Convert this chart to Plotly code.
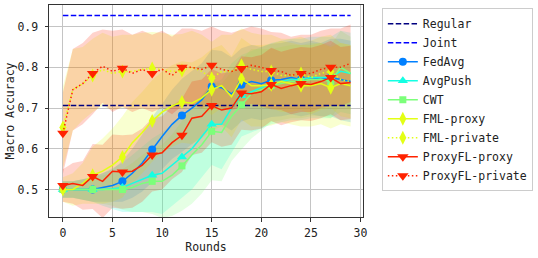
import numpy as np
import plotly.graph_objects as go

rounds = list(range(30))

regular = 0.706
joint = 0.927

fedavg = [0.500,0.500,0.500,0.500,0.505,0.510,0.520,0.540,0.565,0.598,0.630,0.660,0.682,0.700,0.720,0.753,0.750,0.735,0.757,0.765,0.760,0.768,0.770,0.775,0.770,0.775,0.770,0.775,0.770,0.765]
avgpush = [0.500,0.500,0.500,0.500,0.500,0.502,0.505,0.515,0.525,0.535,0.540,0.560,0.580,0.600,0.630,0.660,0.660,0.700,0.730,0.740,0.750,0.760,0.765,0.770,0.770,0.775,0.775,0.775,0.790,0.785]
cwt = [0.500,0.500,0.500,0.500,0.500,0.500,0.500,0.505,0.515,0.520,0.520,0.535,0.558,0.585,0.610,0.643,0.640,0.680,0.708,0.735,0.745,0.755,0.760,0.765,0.765,0.770,0.770,0.765,0.800,0.785]
fml_proxy = [0.500,0.500,0.515,0.535,0.545,0.560,0.580,0.615,0.640,0.668,0.690,0.705,0.715,0.712,0.725,0.745,0.755,0.728,0.772,0.755,0.755,0.757,0.765,0.760,0.755,0.755,0.760,0.750,0.760,0.755]
fml_private = [0.652,0.745,0.760,0.780,0.795,0.785,0.790,0.790,0.795,0.797,0.795,0.790,0.792,0.800,0.790,0.773,0.790,0.790,0.805,0.795,0.790,0.790,0.780,0.780,0.785,0.775,0.785,0.790,0.770,0.765]
proxy_proxy = [0.510,0.515,0.510,0.532,0.520,0.545,0.543,0.545,0.560,0.585,0.590,0.615,0.633,0.675,0.680,0.706,0.695,0.700,0.737,0.735,0.740,0.758,0.748,0.755,0.760,0.758,0.765,0.775,0.760,0.763]
proxy_private = [0.638,0.745,0.760,0.785,0.803,0.790,0.798,0.785,0.795,0.785,0.795,0.780,0.800,0.800,0.795,0.805,0.795,0.790,0.797,0.805,0.800,0.792,0.790,0.780,0.785,0.785,0.795,0.800,0.800,0.810]

fedavg_std = [0.02,0.02,0.025,0.03,0.035,0.04,0.05,0.06,0.07,0.08,0.08,0.085,0.09,0.09,0.09,0.09,0.09,0.09,0.09,0.09,0.09,0.09,0.09,0.09,0.09,0.09,0.09,0.095,0.1,0.1]
avgpush_std = [0.02,0.02,0.025,0.03,0.04,0.05,0.06,0.07,0.08,0.09,0.1,0.1,0.1,0.1,0.1,0.1,0.11,0.11,0.1,0.1,0.1,0.1,0.1,0.1,0.1,0.1,0.1,0.1,0.1,0.1]
cwt_std = [0.02,0.02,0.025,0.03,0.035,0.04,0.05,0.06,0.07,0.08,0.09,0.1,0.11,0.12,0.12,0.12,0.12,0.11,0.11,0.11,0.1,0.09,0.09,0.09,0.09,0.09,0.09,0.09,0.09,0.09]
fml_proxy_std = [0.03,0.04,0.05,0.07,0.08,0.09,0.1,0.1,0.1,0.1,0.1,0.1,0.1,0.1,0.1,0.1,0.1,0.1,0.1,0.1,0.1,0.1,0.1,0.1,0.1,0.1,0.1,0.1,0.1,0.1]
fml_private_std = [0.1,0.1,0.09,0.09,0.09,0.09,0.09,0.09,0.09,0.09,0.09,0.09,0.09,0.09,0.09,0.09,0.09,0.09,0.09,0.09,0.09,0.09,0.09,0.09,0.09,0.09,0.09,0.09,0.09,0.09]
proxy_proxy_std = [0.04,0.05,0.06,0.08,0.09,0.09,0.09,0.09,0.09,0.09,0.09,0.09,0.09,0.09,0.09,0.09,0.09,0.09,0.09,0.09,0.09,0.09,0.09,0.09,0.09,0.09,0.09,0.09,0.09,0.09]
proxy_private_std = [0.1,0.1,0.1,0.1,0.09,0.1,0.095,0.095,0.095,0.095,0.095,0.095,0.095,0.095,0.095,0.095,0.095,0.095,0.095,0.095,0.095,0.095,0.095,0.095,0.095,0.095,0.095,0.095,0.095,0.095]

series = [
    ("FedAvg", fedavg, fedavg_std, (0, 128, 255), "circle", 8, "solid"),
    ("AvgPush", avgpush, avgpush_std, (20, 255, 227), "triangle-up", 9, "solid"),
    ("CWT", cwt, cwt_std, (124, 255, 122), "square", 7, "solid"),
    ("FML-proxy", fml_proxy, fml_proxy_std, (227, 255, 20), "diamond-tall", 10, "solid"),
    ("FML-private", fml_private, fml_private_std, (227, 255, 20), "diamond-tall", 10, "1.5px,2.5px"),
    ("ProxyFL-proxy", proxy_proxy, proxy_proxy_std, (255, 34, 0), "triangle-down", 10, "solid"),
    ("ProxyFL-private", proxy_private, proxy_private_std, (255, 34, 0), "triangle-down", 10, "1.5px,2.5px"),
]

FONT = "DejaVu Sans Mono"
fig = go.Figure()

# bands
for name, m, s, c, sym, ms, dash in series:
    m_ = np.array(m); s_ = np.array(s)
    up = m_ + s_; lo = m_ - s_
    fig.add_trace(go.Scatter(
        x=rounds + rounds[::-1], y=list(up) + list(lo[::-1]),
        fill="toself", fillcolor="rgba(%d,%d,%d,0.2)" % c,
        line=dict(width=0), mode="lines", showlegend=False, hoverinfo="skip"))

# reference lines
for name, val, col in [("Regular", regular, "#000080"), ("Joint", joint, "#0000ff")]:
    fig.add_trace(go.Scatter(
        x=[rounds[0], rounds[-1]], y=[val, val], mode="lines", name=name,
        line=dict(color=col, width=1.5, dash="5.5px,2.4px"), showlegend=True))

# series lines + markers
for name, m, s, c, sym, ms, dash in series:
    col = "rgb(%d,%d,%d)" % c
    fig.add_trace(go.Scatter(x=rounds, y=m, mode="lines", line=dict(color=col, width=1.5, dash=dash),
                             showlegend=False, legendgroup=name))
    fig.add_trace(go.Scatter(x=rounds[::3], y=m[::3], mode="markers",
                             marker=dict(symbol=sym, size=ms, color=col, line=dict(width=0)),
                             showlegend=False, legendgroup=name))
    fig.add_trace(go.Scatter(x=[None], y=[None], mode="lines+markers", name=name, legendgroup=name,
                             line=dict(color=col, width=1.5, dash=dash),
                             marker=dict(symbol=sym, size=ms, color=col, line=dict(width=0))))

axis_common = dict(showline=True, mirror=True, linecolor="#333333", linewidth=1,
                   showgrid=True, gridcolor="#c4c4c4", gridwidth=1,
                   ticks="outside", ticklen=3.5, tickcolor="#333333", zeroline=False,
                   tickfont=dict(family=FONT, size=11.5, color="#222"))

fig.update_layout(
    width=538, height=258,
    margin=dict(l=49, r=170, t=5, b=41),
    paper_bgcolor="white", plot_bgcolor="white",
    font=dict(family=FONT, size=11.5, color="#222"),
    xaxis=dict(range=[-1.4, 30.25], tickvals=[0, 5, 10, 15, 20, 25, 30],
               title=dict(text="Rounds", font=dict(family=FONT, size=11.5), standoff=3),
               ticklabelstandoff=2, **axis_common),
    yaxis=dict(range=[0.4325, 0.953], tickvals=[0.5, 0.6, 0.7, 0.8, 0.9], tickformat=".1f",
               title=dict(text="Macro Accuracy", font=dict(family=FONT, size=11.5), standoff=0),
               ticklabelstandoff=4, **axis_common),
    legend=dict(x=1.06, xanchor="left", y=0.985, yanchor="top",
                bgcolor="white", bordercolor="#cccccc", borderwidth=1,
                font=dict(family=FONT, size=11.5, color="#222"),
                tracegroupgap=0, itemwidth=30),
    showlegend=True,
)

fig.write_html("out.html", config={"displayModeBar": False},
               post_script="document.body.style.margin='0';document.body.style.padding='0';")
